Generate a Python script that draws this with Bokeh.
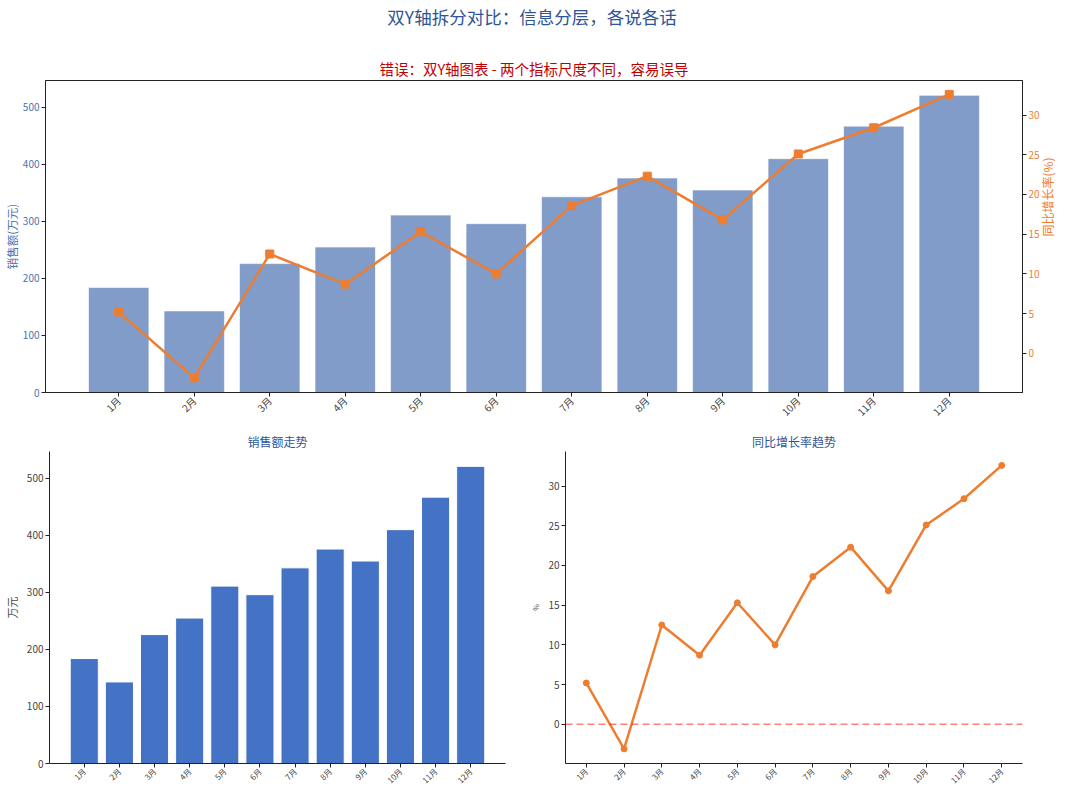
import math
from bokeh.plotting import figure
from bokeh.models import Range1d, LinearAxis, FixedTicker, Span, ColumnDataSource, Div
from bokeh.layouts import column, row
from bokeh.embed import file_html
from bokeh.resources import INLINE

months = ["1月", "2月", "3月", "4月", "5月", "6月", "7月", "8月", "9月", "10月", "11月", "12月"]
sales = [184, 143, 226, 255, 311, 296, 343, 376, 355, 410, 467, 521]
growth = [5.2, -3.1, 12.5, 8.7, 15.3, 10.0, 18.6, 22.3, 16.8, 25.1, 28.4, 32.6]
sales_ticks = [0, 100, 200, 300, 400, 500]
growth_ticks = [0, 5, 10, 15, 20, 25, 30]

FONT = "Noto Sans CJK SC"
BLUE_T = "#2F5597"
ORANGE = "#ED7D31"
idx = list(range(len(months)))
labels = {i: m for i, m in enumerate(months)}
src = ColumnDataSource(dict(x=idx, sales=sales, growth=growth))


def style_axes(p, tick_size="10px"):
    for ax in p.xaxis + p.yaxis:
        ax.major_label_text_font = FONT
        ax.axis_label_text_font = FONT
        ax.axis_label_text_font_style = "normal"
        ax.major_label_text_font_size = tick_size
        ax.major_label_text_line_height = 1.0
        ax.axis_label_text_line_height = 1.0
        ax.minor_tick_line_color = None
        ax.major_tick_out = 4
        ax.major_tick_in = 0
        ax.major_label_standoff = 2
        ax.axis_line_color = "#222222"
        ax.major_tick_line_color = "#222222"


def style_title(t, size, color):
    t.text_color = color
    t.text_font = FONT
    t.text_font_size = size
    t.text_font_style = "normal"
    t.align = "center"


# ---------------- page title ----------------
head = Div(text=('<div style="width:1046px;padding-left:18px;padding-top:9px;'
                 'font-family:\'Noto Sans CJK SC\';font-size:17.5px;color:%s;'
                 'text-align:center;line-height:16px;white-space:nowrap;">'
                 '双Y轴拆分对比：信息分层，各说各话</div>') % BLUE_T,
           width=1064, height=53, margin=0)

# ---------------- top: dual axis ----------------
top = figure(width=1072, height=375, output_backend="svg", toolbar_location=None,
             x_range=Range1d(-0.97, 11.97), y_range=Range1d(0, 547),
             min_border_left=38, min_border_right=50, min_border_top=0, min_border_bottom=36)
top.extra_y_ranges = {"rate": Range1d(-4.94, 34.35)}
top.grid.visible = False
top.outline_line_color = "#222222"
top.vbar(x="x", top="sales", width=0.8, source=src, fill_color="#4C72B0", fill_alpha=0.7,
         line_color="white", line_alpha=0.6, line_width=1)
top.line(x="x", y="growth", source=src, y_range_name="rate", line_color=ORANGE, line_width=2.5)
top.scatter(x="x", y="growth", source=src, y_range_name="rate", marker="square", size=8,
            fill_color=ORANGE, line_color=ORANGE)
raxis = LinearAxis(y_range_name="rate", ticker=FixedTicker(ticks=growth_ticks),
                   axis_label="同比增长率(%)")
top.add_layout(raxis, "right")
top.xaxis.ticker = FixedTicker(ticks=idx)
top.xaxis.major_label_overrides = labels
top.xaxis.major_label_orientation = math.pi / 4
top.yaxis[0].ticker = FixedTicker(ticks=sales_ticks)
top.yaxis[0].axis_label = "销售额(万元)"
style_axes(top)
top.yaxis[0].major_label_text_color = "#4C72B0"
top.yaxis[0].axis_label_text_color = "#4C72B0"
top.yaxis[0].axis_label_text_font_size = "11.5px"
top.yaxis[0].axis_label_standoff = 0
raxis.major_label_text_color = ORANGE
raxis.axis_label_text_color = ORANGE
raxis.axis_label_text_font_size = "12px"
raxis.axis_label_standoff = 5
raxis.axis_label_orientation = math.pi / 2
top.xaxis.major_label_text_font_size = "10px"
top.title.text = "错误：双Y轴图表 - 两个指标尺度不同，容易误导"
style_title(top.title, "14.5px", "#C00000")
top.title.standoff = 4

# ---------------- bottom left: sales bars ----------------
bl = figure(width=528, height=364, output_backend="svg", toolbar_location=None,
            x_range=Range1d(-0.99, 11.99), y_range=Range1d(0, 547),
            min_border_left=38, min_border_right=23, min_border_top=0, min_border_bottom=25)
bl.grid.visible = False
bl.outline_line_color = None
bl.vbar(x="x", top="sales", width=0.8, source=src, fill_color="#4472C4",
        line_color="white", line_width=1)
bl.xaxis.ticker = FixedTicker(ticks=idx)
bl.xaxis.major_label_overrides = labels
bl.xaxis.major_label_orientation = math.pi / 4
bl.yaxis.ticker = FixedTicker(ticks=sales_ticks)
bl.yaxis.axis_label = "万元"
style_axes(bl)
bl.xaxis.major_label_text_font_size = "8px"
bl.yaxis.axis_label_text_font_size = "11px"
bl.yaxis.axis_label_standoff = 4
bl.title.text = "销售额走势"
style_title(bl.title, "12px", BLUE_T)
bl.title.standoff = 4

# ---------------- bottom right: growth line ----------------
br = figure(width=544, height=364, output_backend="svg", toolbar_location=None,
            x_range=Range1d(-0.55, 11.55), y_range=Range1d(-4.94, 34.35),
            min_border_left=36, min_border_right=50, min_border_top=0, min_border_bottom=25)
br.grid.visible = False
br.outline_line_color = None
br.add_layout(Span(location=0, dimension="width", line_color="red", line_alpha=0.5,
                   line_dash="7 4", line_width=1.5))
br.line(x="x", y="growth", source=src, line_color=ORANGE, line_width=2.5)
br.scatter(x="x", y="growth", source=src, marker="circle", size=6,
           fill_color=ORANGE, line_color=ORANGE)
br.xaxis.ticker = FixedTicker(ticks=idx)
br.xaxis.major_label_overrides = labels
br.xaxis.major_label_orientation = math.pi / 4
br.yaxis.ticker = FixedTicker(ticks=growth_ticks)
br.yaxis.axis_label = "%"
style_axes(br)
br.xaxis.major_label_text_font_size = "8px"
br.yaxis.axis_label_text_font_size = "7px"
br.yaxis.axis_label_standoff = 4
br.title.text = "同比增长率趋势"
style_title(br.title, "12px", BLUE_T)
br.title.standoff = 4

layout = column(head, top, row(bl, br))
open("out.html", "w").write(file_html(layout, INLINE))
